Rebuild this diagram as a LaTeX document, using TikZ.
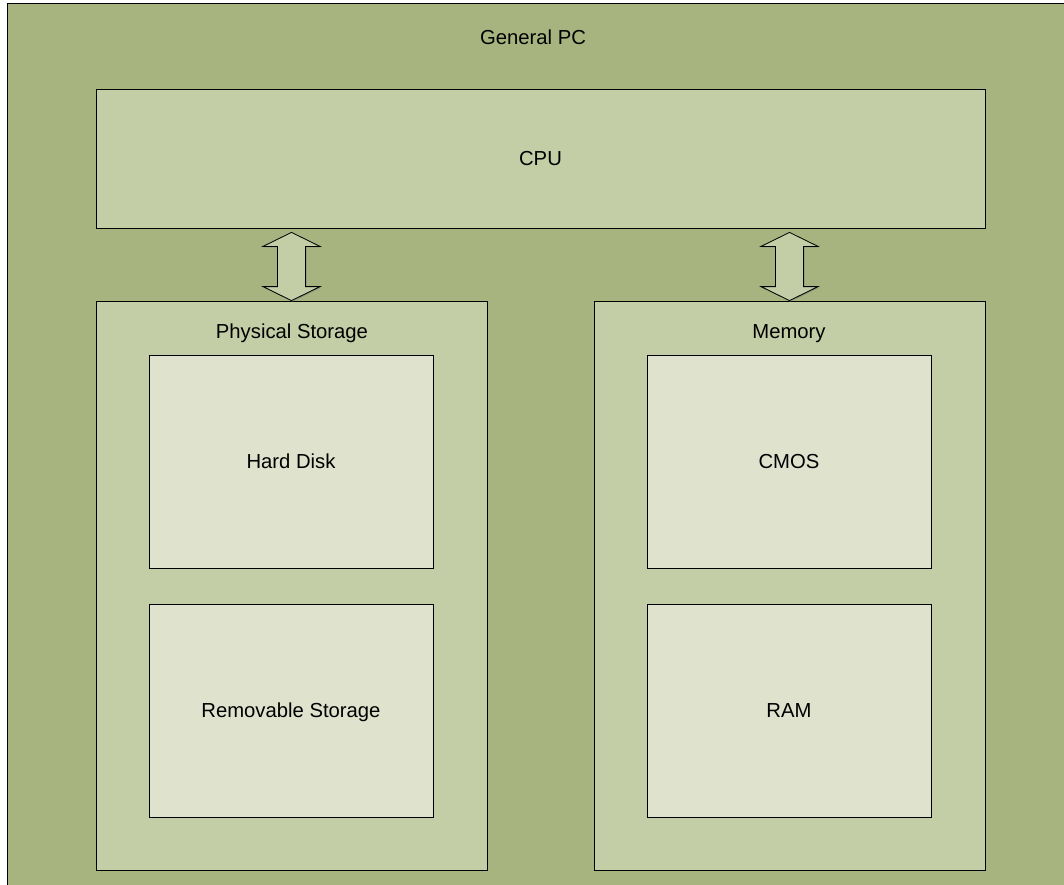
\documentclass[tikz,border=0pt]{standalone}
\usepackage{fontspec}
\setmainfont{Liberation Sans}
\usepackage{tikz}
\usetikzlibrary{calc,fit,shadows}

\definecolor{pcgreen}{HTML}{A7B47F}
\definecolor{boxgreen}{HTML}{C3CDA6}
\definecolor{cellgreen}{HTML}{DFE3CE}

% double block arrow between two named points
\newcommand{\busarrow}[2]{%
  \draw[bus] ($(#1)+(0,4)$) -- ++(28.5,14) -- ++(-14.5,0) -- ($(#2)+(14,-14)$)
    -- ++(14.5,0) -- (#2) -- ++(-28.5,-14) -- ++(14.5,0)
    -- ($(#1)+(-14,18)$) -- ++(-14.5,0) -- cycle;
}

\begin{document}
\begin{tikzpicture}[x=0.75pt,y=-0.75pt]
		\tikzstyle{every node}+=[inner sep=0pt, font=\fontsize{15.2}{18}\selectfont]
		\tikzstyle{caption}=[anchor=center, text height=10.9pt, text depth=0pt]
		\tikzstyle{part}=[draw=black, line width=0.6pt, fill=boxgreen,
			drop shadow={shadow xshift=0.8pt, shadow yshift=-0.8pt, opacity=0.6}]
		\tikzstyle{cell}=[part, fill=cellgreen]
		\tikzstyle{bus}=[draw=black, line width=0.6pt, fill=boxgreen, line join=miter,
			drop shadow={shadow xshift=0.8pt, shadow yshift=-0.8pt, opacity=0.6}]
		\useasboundingbox (0,0) rectangle (1064,885);
		\clip (0,0) rectangle (1064,885);
		\fill [white] (0,0) rectangle (1064,885);
		% whole machine
		\node [draw=black, line width=0.6pt, fill=pcgreen, fit={(7,3) (1080,900)}] (pc) {};
		\node [caption] (pctitle) at (533,37) {General PC};
		% processor
		\node [part, fit={(96,89) (985,228)}, label={[caption]center:CPU}] (cpu) {};
		% storage side
		\node [part, fit={(96,301) (487,870)}] (store) {};
		\node [caption] (storetitle) at (292,331) {Physical Storage};
		\node [cell, fit={(149,355) (433,568)}, label={[caption]center:Hard Disk}] (hdd) {};
		\node [cell, fit={(149,604) (433,817)}, label={[caption]center:Removable Storage}] (removable) {};
		% memory side
		\node [part, fit={(594,301) (985,870)}] (mem) {};
		\node [caption] (memtitle) at (789,331) {Memory};
		\node [cell, fit={(647,355) (931,568)}, label={[caption]center:CMOS}] (cmos) {};
		\node [cell, fit={(647,604) (931,817)}, label={[caption]center:RAM}] (ram) {};
		% buses
		\coordinate (storebus) at (cpu.south -| store.north);
		\coordinate (membus) at (cpu.south -| mem.north);
		\busarrow{storebus}{store.north}
		\busarrow{membus}{mem.north}
\end{tikzpicture}
\end{document}
